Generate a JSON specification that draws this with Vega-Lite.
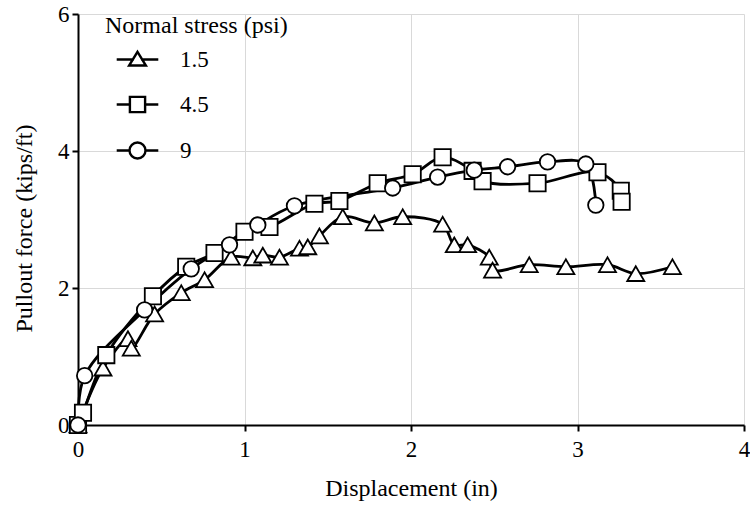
{
  "$schema": "https://vega.github.io/schema/vega-lite/v6.json",
  "autosize": "none",
  "width": 666,
  "height": 411,
  "padding": {"left": 78, "top": 14, "right": 6, "bottom": 81},
  "background": "white",
  "config": {
    "view": {"stroke": null},
    "font": "Liberation Serif",
    "axis": {
      "labelFont": "Liberation Serif",
      "labelFontSize": 23,
      "labelColor": "black",
      "titleFont": "Liberation Serif",
      "titleFontSize": 24,
      "titleFontWeight": "normal",
      "titleColor": "black",
      "domainColor": "black",
      "domainWidth": 2,
      "tickColor": "black",
      "tickWidth": 2,
      "tickSize": 6,
      "gridColor": "#d9d9d9",
      "gridWidth": 1
    },
    "legend": {
      "titleFont": "Liberation Serif",
      "labelFont": "Liberation Serif"
    }
  },
  "data": {
    "values": [
      {"s": "1.5", "i": 0, "x": 0, "y": 0},
      {"s": "1.5", "i": 1, "x": 0.15, "y": 0.83},
      {"s": "1.5", "i": 2, "x": 0.30, "y": 1.26},
      {"s": "1.5", "i": 3, "x": 0.32, "y": 1.12},
      {"s": "1.5", "i": 4, "x": 0.46, "y": 1.62},
      {"s": "1.5", "i": 5, "x": 0.62, "y": 1.93},
      {"s": "1.5", "i": 6, "x": 0.76, "y": 2.12},
      {"s": "1.5", "i": 7, "x": 0.92, "y": 2.45},
      {"s": "1.5", "i": 8, "x": 1.05, "y": 2.44},
      {"s": "1.5", "i": 9, "x": 1.11, "y": 2.48},
      {"s": "1.5", "i": 10, "x": 1.21, "y": 2.45},
      {"s": "1.5", "i": 11, "x": 1.33, "y": 2.58},
      {"s": "1.5", "i": 12, "x": 1.38, "y": 2.60},
      {"s": "1.5", "i": 13, "x": 1.45, "y": 2.76},
      {"s": "1.5", "i": 14, "x": 1.59, "y": 3.04},
      {"s": "1.5", "i": 15, "x": 1.78, "y": 2.95},
      {"s": "1.5", "i": 16, "x": 1.95, "y": 3.04},
      {"s": "1.5", "i": 17, "x": 2.19, "y": 2.93},
      {"s": "1.5", "i": 18, "x": 2.26, "y": 2.63},
      {"s": "1.5", "i": 19, "x": 2.34, "y": 2.63},
      {"s": "1.5", "i": 20, "x": 2.47, "y": 2.45},
      {"s": "1.5", "i": 21, "x": 2.49, "y": 2.26},
      {"s": "1.5", "i": 22, "x": 2.71, "y": 2.34},
      {"s": "1.5", "i": 23, "x": 2.93, "y": 2.31},
      {"s": "1.5", "i": 24, "x": 3.18, "y": 2.34},
      {"s": "1.5", "i": 25, "x": 3.35, "y": 2.21},
      {"s": "1.5", "i": 26, "x": 3.57, "y": 2.31},
      {"s": "4.5", "i": 0, "x": 0, "y": 0},
      {"s": "4.5", "i": 1, "x": 0.03, "y": 0.18},
      {"s": "4.5", "i": 2, "x": 0.17, "y": 1.02},
      {"s": "4.5", "i": 3, "x": 0.45, "y": 1.88},
      {"s": "4.5", "i": 4, "x": 0.65, "y": 2.31},
      {"s": "4.5", "i": 5, "x": 0.82, "y": 2.51},
      {"s": "4.5", "i": 6, "x": 1.00, "y": 2.82},
      {"s": "4.5", "i": 7, "x": 1.15, "y": 2.89},
      {"s": "4.5", "i": 8, "x": 1.42, "y": 3.23},
      {"s": "4.5", "i": 9, "x": 1.57, "y": 3.27},
      {"s": "4.5", "i": 10, "x": 1.80, "y": 3.53},
      {"s": "4.5", "i": 11, "x": 2.01, "y": 3.66},
      {"s": "4.5", "i": 12, "x": 2.19, "y": 3.91},
      {"s": "4.5", "i": 13, "x": 2.37, "y": 3.71},
      {"s": "4.5", "i": 14, "x": 2.43, "y": 3.56},
      {"s": "4.5", "i": 15, "x": 2.76, "y": 3.53},
      {"s": "4.5", "i": 16, "x": 3.12, "y": 3.69},
      {"s": "4.5", "i": 17, "x": 3.26, "y": 3.42},
      {"s": "4.5", "i": 18, "x": 3.265, "y": 3.26},
      {"s": "9", "i": 0, "x": 0, "y": 0},
      {"s": "9", "i": 1, "x": 0.04, "y": 0.72},
      {"s": "9", "i": 2, "x": 0.40, "y": 1.68},
      {"s": "9", "i": 3, "x": 0.68, "y": 2.28},
      {"s": "9", "i": 4, "x": 0.91, "y": 2.63},
      {"s": "9", "i": 5, "x": 1.08, "y": 2.92},
      {"s": "9", "i": 6, "x": 1.30, "y": 3.20},
      {"s": "9", "i": 7, "x": 1.89, "y": 3.46},
      {"s": "9", "i": 8, "x": 2.16, "y": 3.62},
      {"s": "9", "i": 9, "x": 2.38, "y": 3.72},
      {"s": "9", "i": 10, "x": 2.58, "y": 3.77},
      {"s": "9", "i": 11, "x": 2.82, "y": 3.84},
      {"s": "9", "i": 12, "x": 3.05, "y": 3.81},
      {"s": "9", "i": 13, "x": 3.11, "y": 3.21}
    ]
  },
  "encoding": {
    "x": {
      "field": "x", "type": "quantitative",
      "scale": {"domain": [0, 4], "nice": false, "zero": false},
      "axis": {"values": [0, 1, 2, 3, 4], "title": "Displacement (in)", "labelPadding": 7, "titlePadding": 15, "labelFlush": false, "grid": true}
    },
    "y": {
      "field": "y", "type": "quantitative",
      "scale": {"domain": [0, 6], "nice": false},
      "axis": {"values": [0, 2, 4, 6], "title": "Pullout force (kips/ft)", "labelPadding": 3, "titlePadding": 21, "titleY": 214, "labelFlush": false, "grid": true}
    }
  },
  "layer": [
    {
      "mark": {"type": "line", "color": "black", "strokeWidth": 2.8, "interpolate": "catmull-rom"},
      "encoding": {
        "detail": {"field": "s"},
        "order": {"field": "i", "type": "quantitative"}
      }
    },
    {
      "mark": {"type": "point", "filled": true, "fill": "white", "stroke": "black", "strokeWidth": 1.8, "opacity": 1},
      "encoding": {
        "shape": {
          "field": "s", "type": "nominal",
          "scale": {"domain": ["1.5", "4.5", "9"], "range": ["triangle-up", "square", "circle"]},
          "legend": null
        },
        "size": {
          "field": "s", "type": "nominal",
          "scale": {"domain": ["1.5", "4.5", "9"], "range": [290, 240, 280]},
          "legend": null
        }
      }
    },
    {
      "transform": [{"filter": "datum.i < 0"}],
      "mark": {"type": "point", "filled": false, "fill": "white", "stroke": "black", "strokeWidth": 2.4, "opacity": 1},
      "encoding": {
        "shape": {
          "field": "s", "type": "nominal",
          "scale": {
            "domain": ["1.5", "4.5", "9"],
            "range": [
              "M-2.6,0H-0.45M0.45,0H2.6M0,-0.95L1.05,0.75L-1.05,0.75Z",
              "M-2.6,0H-0.95M0.95,0H2.6M-0.95,-0.95H0.95V0.95H-0.95Z",
              "M-2.6,0H-1M1,0H2.6M1,0A1,1 0 1,1 -1,0A1,1 0 1,1 1,0Z"
            ]
          },
          "legend": {
            "title": "Normal stress (psi)",
            "orient": "none",
            "legendX": 27,
            "legendY": 0,
            "padding": 0,
            "titleFontSize": 24,
            "titleFontWeight": "normal",
            "titleColor": "black",
            "titleLimit": 500,
            "titlePadding": 10,
            "labelFontSize": 23,
            "labelColor": "black",
            "symbolSize": 256,
            "symbolOffset": 21,
            "labelOffset": 31,
            "rowPadding": 20,
            "symbolStrokeWidth": 2.4
          }
        }
      }
    }
  ],
  "resolve": {"scale": {"shape": "independent"}}
}
